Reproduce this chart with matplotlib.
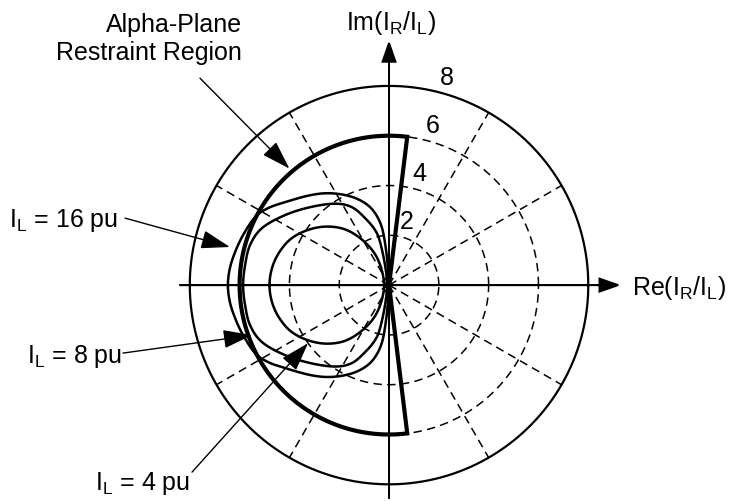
import numpy as np
import matplotlib.pyplot as plt

plt.rcParams['font.family'] = 'Liberation Sans'
plt.rcParams['mathtext.fontset'] = 'custom'
plt.rcParams['mathtext.rm'] = 'Liberation Sans'
plt.rcParams['mathtext.default'] = 'regular'

# polar grid of the current-ratio plane
ring_radii = [2, 4, 6]
outer_radius = 8
ring_labels = ['2', '4', '6', '8']
spoke_angles = [30, 60, 120, 150, 210, 240, 300, 330]

# alpha-plane restraint characteristic
alpha_radius = 6
alpha_angle = 194  # degrees, centred on 180

# measured ratio trajectories (upper half, symmetric about the real axis)
il4_x = [-4.80, -4.70, -4.42, -3.95, -3.30, -2.55, -1.80, -1.15, -0.62, -0.32, -0.20]
il4_y = [0.00, 0.68, 1.30, 1.85, 2.20, 2.35, 2.25, 1.88, 1.33, 0.70, 0.00]

il8_x = [-5.86, -5.78, -5.58, -5.10, -4.18, -3.17, -2.17, -1.49, -0.96, -0.56, -0.36, -0.16, -0.08]
il8_y = [0.00, 0.80, 1.61, 2.29, 2.81, 3.13, 3.27, 3.13, 2.69, 2.21, 1.73, 0.80, 0.00]

il16_x = [-6.47, -6.39, -6.18, -5.86, -5.38, -4.86, -4.18, -3.17, -2.37, -1.57,
          -0.96, -0.56, -0.28, -0.12, -0.04, -0.02]
il16_y = [0.00, 0.68, 1.33, 2.01, 2.73, 3.09, 3.33, 3.61, 3.69, 3.57,
          3.29, 2.89, 2.29, 1.41, 0.60, 0.00]

curve_labels = ['I$_L$ = 4 pu', 'I$_L$ = 8 pu', 'I$_L$ = 16 pu']


def closed_smooth(px, py, steps=12):
    # mirror the upper half and run a closed Catmull-Rom curve through the points
    px = np.asarray(px)
    py = np.asarray(py)
    pts = np.column_stack([np.concatenate([px, px[-2:0:-1]]),
                           np.concatenate([py, -py[-2:0:-1]])])
    n = len(pts)
    out = []
    s = np.linspace(0, 1, steps, endpoint=False)[:, None]
    for i in range(n):
        p0, p1, p2, p3 = pts[i - 1], pts[i], pts[(i + 1) % n], pts[(i + 2) % n]
        seg = 0.5 * (2 * p1 + (-p0 + p2) * s + (2 * p0 - 5 * p1 + 4 * p2 - p3) * s ** 2
                     + (-p0 + 3 * p1 - 3 * p2 + p3) * s ** 3)
        out.append(seg)
    out.append(pts[:1])
    out = np.vstack(out)
    return out[:, 0], out[:, 1]


fig = plt.figure(figsize=(7.29, 5.01), dpi=100)
ax = fig.add_axes([0, 0, 1, 1])
ax.set_xlim(-15.62, 13.65)
ax.set_ylim(-8.67, 11.45)
ax.axis('off')

t = np.linspace(0, 2 * np.pi, 400)
dash = dict(color='black', lw=1.1, dashes=(5.5, 3.5))
for r in ring_radii:
    ax.plot(r * np.cos(t), r * np.sin(t), **dash)
for a in spoke_angles:
    ar = np.radians(a)
    ax.plot([0, outer_radius * np.cos(ar)], [0, outer_radius * np.sin(ar)], **dash)

ax.plot(outer_radius * np.cos(t), outer_radius * np.sin(t), color='black', lw=1.6)

# ring values
lab_ang = np.radians(74.5)
for r, s in zip(ring_radii + [outer_radius], ring_labels):
    ax.text((r + 0.62) * np.cos(lab_ang), (r + 0.62) * np.sin(lab_ang), s,
            fontsize=18, ha='center', va='center')

# axes with arrowheads
ax.arrow(-8.39, 0, 8.39 + 9.2, 0, width=0.001, head_width=0.52, head_length=0.75,
         length_includes_head=True, color='black', lw=1.4)
ax.arrow(0, -8.55, 0, 8.55 + 9.72, width=0.001, head_width=0.52, head_length=0.75,
         length_includes_head=True, color='black', lw=1.4)
ax.text(9.76, -0.4, 'Re(I$_R$/I$_L$)', fontsize=18, ha='left', va='baseline')
ax.text(0.08, 10.24, 'Im(I$_R$/I$_L$)', fontsize=18, ha='center', va='baseline')

# trajectories
for cx, cy in [(il4_x, il4_y), (il8_x, il8_y), (il16_x, il16_y)]:
    xx, yy = closed_smooth(cx, cy)
    ax.plot(xx, yy, color='black', lw=1.8)

# restraint region boundary
half = np.radians(alpha_angle / 2)
th = np.linspace(np.pi - half, np.pi + half, 200)
bx = np.concatenate([[0], alpha_radius * np.cos(th), [0]])
by = np.concatenate([[0], alpha_radius * np.sin(th), [0]])
ax.plot(bx, by, color='black', lw=3, solid_joinstyle='miter')

# callouts
arrow = dict(arrowstyle='-|>,head_length=1.0,head_width=0.32', color='black',
             lw=1.0, mutation_scale=18, shrinkA=0, shrinkB=0)
ax.text(-5.9, 10.16, 'Alpha-Plane', fontsize=18, ha='right', va='baseline')
ax.text(-5.9, 9.04, 'Restraint Region', fontsize=18, ha='right', va='baseline')
ax.annotate('', xy=(-4.0, 4.68), xytext=(-7.59, 8.31), arrowprops=arrow)

ax.text(-10.88, 2.33, curve_labels[2], fontsize=18, ha='right', va='baseline')
ax.annotate('', xy=(-6.39, 1.53), xytext=(-10.6, 2.69), arrowprops=arrow)

ax.text(-10.72, -3.13, curve_labels[1], fontsize=18, ha='right', va='baseline')
ax.annotate('', xy=(-5.50, -2.01), xytext=(-10.68, -2.73), arrowprops=arrow)

ax.text(-7.99, -8.23, curve_labels[0], fontsize=18, ha='right', va='baseline')
ax.annotate('', xy=(-3.25, -2.33), xytext=(-7.91, -7.51), arrowprops=arrow)

fig.savefig('out.png', dpi=100, facecolor='white')
